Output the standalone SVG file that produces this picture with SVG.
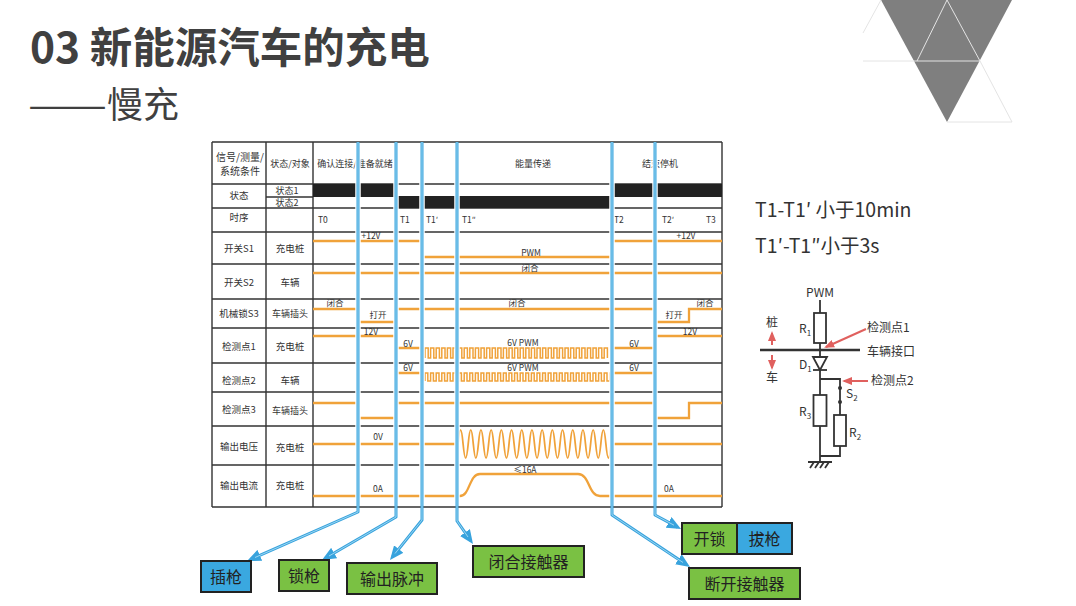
<svg xmlns="http://www.w3.org/2000/svg" width="1076" height="606" viewBox="0 0 1076 606">
<defs>
<style>
text{font-family:"Noto Sans CJK SC","Noto Sans",sans-serif;fill:#333}
.g{stroke:#333;stroke-width:1.4;fill:none}
.bar{fill:#222}
.c9{font-size:9px;text-anchor:middle}
.c10{font-size:9.5px;text-anchor:middle}
.s8{font-size:8.5px;text-anchor:middle}
.t8{font-size:8.5px}
.sig{stroke:#f0a23a;stroke-width:2.3;fill:none}
.pw{stroke:#f0a23a;stroke-width:1.5;fill:none}
.halo{stroke:#fff;stroke-width:5.5;fill:none}
.bl{stroke:#38a3dd;stroke-width:3;fill:none;stroke-linejoin:round}
.bli{stroke:#a6dbf4;stroke-width:0.9;fill:none;stroke-linejoin:round}
.box{stroke:#222;stroke-width:2}
.gr{fill:#7ac143}
.bu{fill:#3aa8e0}
.bt{font-size:16px;text-anchor:middle;fill:#222}
.ck{stroke:#333;stroke-width:1.8;fill:none}
.red{stroke:#e0605e;stroke-width:2;fill:none}
.ct{font-size:12px}
.tri{stroke:#e4e4e4;stroke-width:1;fill:none}
</style>
<marker id="ah" markerUnits="userSpaceOnUse" markerWidth="14" markerHeight="12" viewBox="0 0 14 12" refX="10" refY="6" orient="auto">
<path d="M0,0 L14,6 L0,12 z" fill="#38a3dd"/>
</marker>
<marker id="ra" markerUnits="userSpaceOnUse" markerWidth="10" markerHeight="8" viewBox="0 0 10 8" refX="8" refY="4" orient="auto">
<path d="M0,0 L10,4 L0,8 z" fill="#e0605e"/>
</marker>
</defs>
<rect width="1076" height="606" fill="#fff"/>

<g id="decor">
<polygon points="881,0 1012,0 947,122" fill="#7f7f7f"/>
<path class="tri" d="M863,61 H980 M947,0 L917,61 M947,0 L980,61 L1012,122 H947 M881,0 L863,33"/>
</g>

<g id="title">
<text x="30" y="63" style="font-size:42.5px;font-weight:bold;fill:#404040">03 新能源汽车的充电</text>
<text x="28" y="118" style="font-size:36px;fill:#404040" textLength="79" lengthAdjust="spacingAndGlyphs">——</text>
<text x="107" y="118" style="font-size:36px;fill:#404040">慢充</text>
</g>

<g id="table">
<path class="g" d="M212,142 H722 M212,184 H722 M212,208 H722 M212,232 H722 M212,264 H722 M212,299 H722 M212,328 H722 M212,363 H722 M212,392 H722 M212,426 H722 M212,465 H722 M212,507 H722 M266,197 H313 M212,142 V507 M266,142 V507 M313,142 V507 M722,142 V507"/>
<rect class="bar" x="313" y="184" width="83" height="13"/>
<rect class="bar" x="396" y="196" width="216" height="12"/>
<rect class="bar" x="612" y="184" width="110" height="13"/>
<text class="c9" style="font-size:10px" x="240" y="160.5">信号/测量/</text>
<text class="c9" style="font-size:10px" x="240" y="174.5">系统条件</text>
<text class="c9" x="290" y="167">状态/对象</text>
<text class="c9" x="355" y="167">确认连接/准备就绪</text>
<text class="c9" x="533" y="167">能量传递</text>
<text class="c9" x="660" y="167">结束停机</text>
<text class="c10" x="239" y="198.5">状态</text>
<text class="c10" x="239" y="221">时序</text>
<text class="c10" x="239" y="251.5">开关S1</text>
<text class="c10" x="239" y="286">开关S2</text>
<text class="c10" x="239" y="316.5">机械锁S3</text>
<text class="c10" x="239" y="349.5">检测点1</text>
<text class="c10" x="239" y="383.5">检测点2</text>
<text class="c10" x="239" y="412.5">检测点3</text>
<text class="c10" x="239" y="449.5">输出电压</text>
<text class="c10" x="239" y="489">输出电流</text>
<text class="c9" x="287" y="193.5">状态1</text>
<text class="c9" x="287" y="206">状态2</text>
<text class="c10" x="290" y="251.5">充电桩</text>
<text class="c10" x="290" y="286">车辆</text>
<text class="c9" x="290" y="316.5">车辆插头</text>
<text class="c10" x="290" y="349.5">充电桩</text>
<text class="c10" x="290" y="384">车辆</text>
<text class="c9" x="290" y="414">车辆插头</text>
<text class="c10" x="290" y="451">充电桩</text>
<text class="c10" x="290" y="489">充电桩</text>
<text class="t8" x="318" y="223">T0</text>
<text class="t8" x="400" y="223">T1</text>
<text class="t8" x="426" y="223">T1′</text>
<text class="t8" x="462" y="223">T1″</text>
<text class="t8" x="614" y="223">T2</text>
<text class="t8" x="662" y="223">T2′</text>
<text class="t8" x="706" y="223">T3</text>
</g>

<g id="signals">
<path class="sig" d="M313,241 H422 M422,257 H612 M612,241 H722"/>
<path class="sig" d="M313,273 H722"/>
<path class="sig" d="M313,309 H358 M358,322 H396 M396,309 H655 M655,322 H689 V309 H722"/>
<path class="sig" d="M313,336 H396 M396,348 H422 M612,348 H655 M655,336 H722"/>
<path class="pw" d="M425,358 v-10h3.2v10h2.4v-10h3.2v10h2.4v-10h3.2v10h2.4v-10h3.2v10h2.4v-10h3.2v10h2.4v-10h3.2v10h2.4v-10h3.2v10h2.4v-10h3.2v10h2.4v-10h3.2v10h2.4v-10h3.2v10h2.4v-10h3.2v10h2.4v-10h3.2v10h2.4v-10h3.2v10h2.4v-10h3.2v10h2.4v-10h3.2v10h2.4v-10h3.2v10h2.4v-10h3.2v10h2.4v-10h3.2v10h2.4v-10h3.2v10h2.4v-10h3.2v10h2.4v-10h3.2v10h2.4v-10h3.2v10h2.4v-10h3.2v10h2.4v-10h3.2v10h2.4v-10h3.2v10h2.4v-10h3.2v10h2.4v-10h3.2v10h2.4v-10h3.2v10h2.4v-10h3.2v10h2.4v-10h3.2v10h2.4v-10h3.2v10h2.4v-10h3.2v10h2.4v-10h3.2v10"/>
<path class="sig" d="M396,373 H422 M612,373 H655"/>
<path class="pw" d="M425,381 v-8h2.8v8h2.8v-8h2.8v8h2.8v-8h2.8v8h2.8v-8h2.8v8h2.8v-8h2.8v8h2.8v-8h2.8v8h2.8v-8h2.8v8h2.8v-8h2.8v8h2.8v-8h2.8v8h2.8v-8h2.8v8h2.8v-8h2.8v8h2.8v-8h2.8v8h2.8v-8h2.8v8h2.8v-8h2.8v8h2.8v-8h2.8v8h2.8v-8h2.8v8h2.8v-8h2.8v8h2.8v-8h2.8v8h2.8v-8h2.8v8h2.8v-8h2.8v8h2.8v-8h2.8v8h2.8v-8h2.8v8h2.8v-8h2.8v8h2.8v-8h2.8v8h2.8v-8h2.8v8h2.8v-8h2.8v8h2.8v-8h2.8v8h2.8v-8h2.8v8h2.8v-8h2.8v8h2.8v-8h2.8v8h2.8v-8h2.8v8h2.8v-8h2.8v8h2.8v-8h2.8v8h2.8v-8h2.8v8"/>
<path class="sig" d="M313,403 H358 M358,418 H396 M396,403 H655 M655,418 H689 V403 H722"/>
<path class="sig" d="M313,444 H458 M612,444 H722"/>
<path class="sig" style="stroke-width:1.8" d="M458,444 c1.8,-18.7 3.3,-18.7 5.1,0c1.8,18.7 3.3,18.7 5.1,0c1.8,-18.7 3.3,-18.7 5.1,0c1.8,18.7 3.3,18.7 5.1,0c1.8,-18.7 3.3,-18.7 5.1,0c1.8,18.7 3.3,18.7 5.1,0c1.8,-18.7 3.3,-18.7 5.1,0c1.8,18.7 3.3,18.7 5.1,0c1.8,-18.7 3.3,-18.7 5.1,0c1.8,18.7 3.3,18.7 5.1,0c1.8,-18.7 3.3,-18.7 5.1,0c1.8,18.7 3.3,18.7 5.1,0c1.8,-18.7 3.3,-18.7 5.1,0c1.8,18.7 3.3,18.7 5.1,0c1.8,-18.7 3.3,-18.7 5.1,0c1.8,18.7 3.3,18.7 5.1,0c1.8,-18.7 3.3,-18.7 5.1,0c1.8,18.7 3.3,18.7 5.1,0c1.8,-18.7 3.3,-18.7 5.1,0c1.8,18.7 3.3,18.7 5.1,0c1.8,-18.7 3.3,-18.7 5.1,0c1.8,18.7 3.3,18.7 5.1,0c1.8,-18.7 3.3,-18.7 5.1,0c1.8,18.7 3.3,18.7 5.1,0c1.8,-18.7 3.3,-18.7 5.1,0c1.8,18.7 3.3,18.7 5.1,0c1.8,-18.7 3.3,-18.7 5.1,0c1.8,18.7 3.3,18.7 5.1,0c1.8,-18.7 3.3,-18.7 5.1,0c1.8,18.7 3.3,18.7 5.1,0"/>
<path class="sig" d="M313,496 H460 C470,496 469,474 480,474 H578 C590,474 588,496 600,496 H612 M612,496 H722"/>
<text class="s8" x="371" y="239">+12V</text>
<text class="s8" x="686" y="239">+12V</text>
<text class="s8" x="531" y="255.5">PWM</text>
<text class="s8" x="530" y="271">闭合</text>
<text class="s8" x="335" y="306">闭合</text>
<text class="s8" x="378" y="317.5">打开</text>
<text class="s8" x="517" y="306">闭合</text>
<text class="s8" x="674" y="317.5">打开</text>
<text class="s8" x="705" y="306">闭合</text>
<text class="s8" x="371" y="335">12V</text>
<text class="s8" x="408" y="346.5">6V</text>
<text class="s8" x="523" y="345.5">6V PWM</text>
<text class="s8" x="634" y="346.5">6V</text>
<text class="s8" x="690" y="335">12V</text>
<text class="s8" x="408" y="370.5">6V</text>
<text class="s8" x="523" y="370.5">6V PWM</text>
<text class="s8" x="634" y="370.5">6V</text>
<text class="s8" x="378" y="439.5">0V</text>
<text class="s8" x="378" y="492">0A</text>
<text class="s8" x="525" y="472.5">≤16A</text>
<text class="s8" x="669" y="492">0A</text>
</g>

<g id="connectors">
<path class="halo" d="M358,143 V506 M396,143 V506 M422,143 V506 M457,143 V506 M612,143 V506 M655,143 V506"/>
<path class="bl" marker-end="url(#ah)" d="M358,142 V512 L250.7,559.4"/>
<path class="bl" marker-end="url(#ah)" d="M396,142 V517 L325.5,558"/>
<path class="bl" marker-end="url(#ah)" d="M422,142 V520 L392.5,556.9"/>
<path class="bl" marker-end="url(#ah)" d="M457,142 V521 L470.7,540.7"/>
<path class="bl" marker-end="url(#ah)" d="M612,142 V515 L686.7,564.8"/>
<path class="bl" marker-end="url(#ah)" d="M655,142 V515 L677.5,527.1"/>
<path class="bli" d="M358,142 V512 L255,557.5 M396,142 V517 L329,556 M422,142 V520 L395,553.5 M457,142 V521 L468,537 M612,142 V515 L683,562.5 M655,142 V515 L674,525.2"/>
</g>

<g id="box-chaqiang"><rect class="box bu" x="201" y="561" width="50" height="31"/><text class="bt" x="226" y="582.5">插枪</text></g>
<g id="box-suoqiang"><rect class="box gr" x="279" y="560" width="50" height="31"/><text class="bt" x="304" y="581.5">锁枪</text></g>
<g id="box-shuchu"><rect class="box gr" x="347" y="563" width="90" height="31"/><text class="bt" x="392" y="584.5">输出脉冲</text></g>
<g id="box-bihe"><rect class="box gr" x="473" y="546" width="111" height="31"/><text class="bt" x="528.5" y="567.5">闭合接触器</text></g>
<g id="box-kaisuo"><rect class="box gr" x="682" y="523" width="55" height="31"/><text class="bt" x="709.5" y="544.5">开锁</text></g>
<g id="box-baqiang"><rect class="box bu" x="737" y="523" width="55" height="31"/><text class="bt" x="764.5" y="544.5">拔枪</text></g>
<g id="box-duankai"><rect class="box gr" x="689" y="568" width="111" height="31"/><text class="bt" x="744.5" y="589.5">断开接触器</text></g>

<g id="notes">
<text x="755" y="217" style="font-size:19.5px">T1-T1′ 小于10min</text>
<text x="755" y="253" style="font-size:19.5px">T1′-T1″小于3s</text>
</g>

<g id="circuit">
<path class="ck" d="M820,300 V313 M820,343 V357 M820,370 V395 M820,426 V462 M820,379 H840 V388 M840,388 V402 M840,402 V415 M840,446 V456 H820"/>
<rect class="ck" x="814" y="313" width="12" height="30"/>
<rect class="ck" x="813.5" y="395" width="13" height="31"/>
<rect class="ck" x="834" y="415" width="12" height="31"/>
<polygon points="813,357 827,357 820,370" fill="none" stroke="#333" stroke-width="1.8"/>
<path class="ck" d="M813,370 H827"/>
<path stroke="#333" stroke-width="2.6" d="M760,350 H860"/>
<circle cx="840" cy="388" r="2" fill="#333"/>
<circle cx="840" cy="402" r="2" fill="#333"/>
<path class="ck" d="M808,462 H832 M810,468 L814,462 M815,468 L819,462 M820,468 L824,462 M825,468 L829,462"/>
<path class="red" marker-end="url(#ra)" d="M866,329 L826,347"/>
<path class="red" marker-end="url(#ra)" d="M868,381 L844,381"/>
<path class="red" marker-end="url(#ra)" d="M772,345 V333"/>
<path class="red" marker-end="url(#ra)" d="M772,355 V368"/>
<text class="ct" x="820" y="297" text-anchor="middle">PWM</text>
<text class="ct" x="799" y="333">R<tspan style="font-size:8px" dy="3">1</tspan></text>
<text class="ct" x="799" y="369">D<tspan style="font-size:8px" dy="3">1</tspan></text>
<text class="ct" x="799" y="416">R<tspan style="font-size:8px" dy="3">3</tspan></text>
<text class="ct" x="846" y="398">S<tspan style="font-size:8px" dy="3">2</tspan></text>
<text class="ct" x="849" y="437">R<tspan style="font-size:8px" dy="3">2</tspan></text>
<text class="ct" x="867" y="332">检测点1</text>
<text class="ct" x="867" y="356">车辆接口</text>
<text class="ct" x="871" y="385">检测点2</text>
<text class="ct" x="772" y="327" text-anchor="middle">桩</text>
<text class="ct" x="772" y="382" text-anchor="middle">车</text>
</g>
</svg>
